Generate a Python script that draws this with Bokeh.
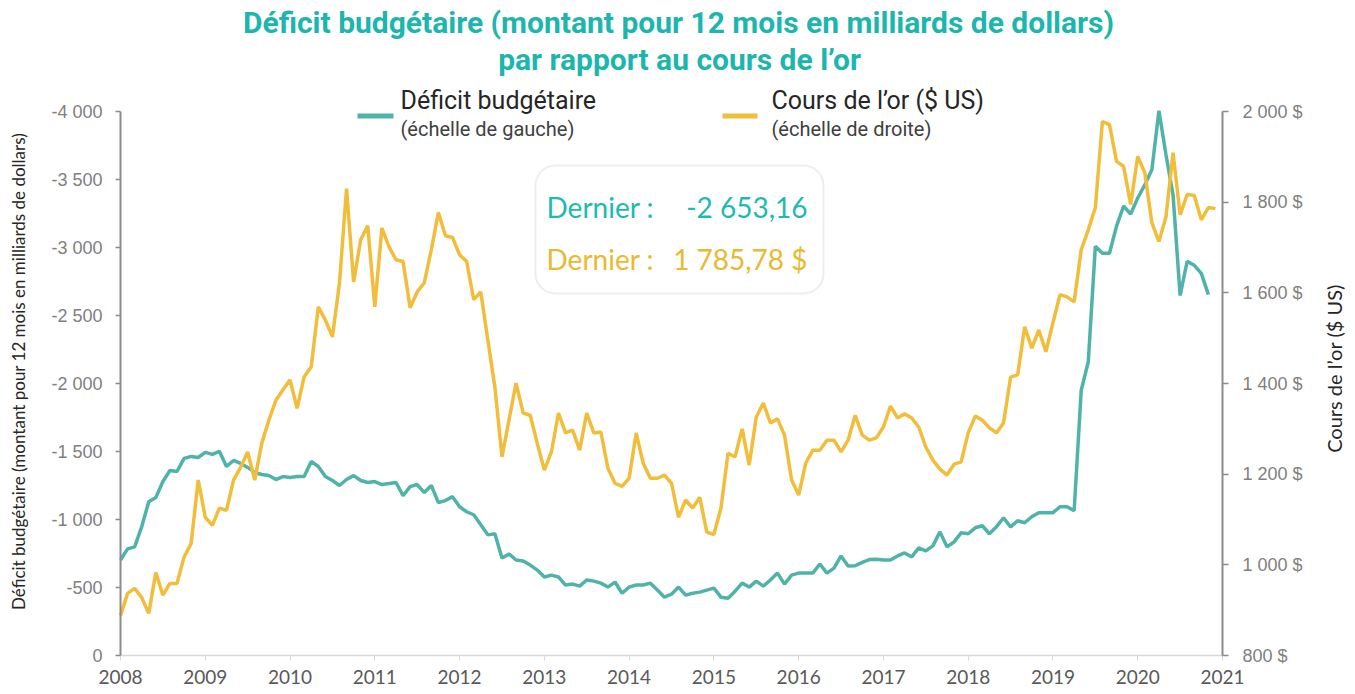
import math
from bokeh.plotting import figure
from bokeh.models import Range1d, LinearAxis, FixedTicker, Label, BoxAnnotation
from bokeh.embed import file_html
from bokeh.resources import INLINE

# ---------------- data (monthly, from January 2008) ----------------
start_year = 2008
year_ticks = list(range(2008, 2022))

deficit = [
    -702, -784, -799, -946, -1131, -1161, -1279, -1360, -1353, -1449, -1464, -1456,
    -1494, -1479, -1501, -1390, -1434, -1412, -1383, -1346, -1331, -1323, -1294, -1316,
    -1309, -1316, -1316, -1427, -1390, -1316, -1287, -1250, -1294, -1323, -1287, -1272,
    -1279, -1257, -1264, -1272, -1176, -1242, -1257, -1198, -1250, -1124, -1139, -1168,
    -1094, -1057, -1035, -961, -887, -895,
    -717, -747, -702, -695, -665, -628, -577, -591, -577, -518, -525, -510,
    -555, -547, -532, -503, -540, -458, -503, -518, -518, -532, -481, -429,
    -451, -503, -444, -458, -466, -481, -495, -429, -421, -473, -532, -503,
    -547, -510, -555, -606, -525, -591, -606, -606, -606, -673, -606, -643,
    -732, -658, -660, -685, -705, -708, -702, -702, -732, -754, -725, -791,
    -769, -806, -909, -799, -835, -902, -895, -939, -954, -895, -946, -1013,
    -946, -991, -976, -1020, -1050, -1050, -1050, -1094, -1094, -1065, -1950, -2160,
    -3009, -2958, -2958, -3157, -3305, -3246, -3364, -3460, -3571, -4005, -3682, -3386,
    -2647, -2898, -2869, -2810, -2653.16,
]

gold = [
    888, 937, 948, 928, 893, 983, 933, 959, 959, 1017, 1047, 1187,
    1105, 1087, 1125, 1120, 1187, 1215, 1249, 1187, 1268, 1319, 1363, 1386,
    1408, 1345, 1415, 1437, 1569, 1540, 1503, 1622, 1830, 1624, 1717, 1748,
    1569, 1743, 1702, 1673, 1669, 1567, 1602, 1622, 1695, 1777, 1726, 1722,
    1684, 1669, 1585, 1602, 1496, 1392, 1238, 1320, 1401, 1335, 1330, 1268,
    1209, 1249, 1335, 1291, 1297, 1253, 1335, 1291, 1293, 1213, 1180, 1173,
    1191, 1291, 1224, 1191, 1191, 1198, 1180, 1105, 1143, 1125, 1149, 1072,
    1067, 1125, 1246, 1238, 1300, 1220, 1326, 1357, 1313, 1322, 1286, 1187,
    1154, 1224, 1253, 1253, 1275, 1275, 1249, 1275, 1330, 1286, 1275, 1280,
    1304, 1350, 1324, 1333, 1324, 1304, 1260, 1231, 1211, 1198, 1222, 1227,
    1291, 1328, 1319, 1302, 1291, 1313, 1414, 1419, 1525, 1478, 1518, 1470,
    1534, 1596, 1591, 1580, 1695, 1739, 1788, 1978, 1971, 1890, 1879, 1795,
    1901, 1865, 1755, 1713, 1768, 1909, 1772, 1817, 1815, 1761, 1788, 1785.78,
]

left_ticks = [0, -500, -1000, -1500, -2000, -2500, -3000, -3500, -4000]
left_labels = ["0", "-500", "-1 000", "-1 500", "-2 000", "-2 500", "-3 000", "-3 500", "-4 000"]
right_ticks = [800, 1000, 1200, 1400, 1600, 1800, 2000]
right_labels = ["800 $", "1 000 $", "1 200 $", "1 400 $", "1 600 $", "1 800 $", "2 000 $"]

x_def = [start_year + i / 12 for i in range(len(deficit))]
x_gold = [start_year + i / 12 for i in range(len(gold))]

TEAL = "#4fb3aa"
GOLD = "#f2bd3b"
TITLE_TEAL = "#1cb6ae"
AXIS_GRAY = "#8c8c8c"

# The frame covers the whole canvas; all three axes are pinned (fixed_location)
# and bounded to their data spans, so titles, legend, axis titles and tick
# labels are all drawn inside the frame.
W, H = 1355, 694
AX_LEFT, AX_RIGHT, AX_BOTTOM, AX_TOP = 120, 1222, 655, 111
x0, x1 = year_ticks[0], year_ticks[-1]
px_per_year = (AX_RIGHT - AX_LEFT) / (x1 - x0)
x_start = x0 - AX_LEFT / px_per_year
x_end = x1 + (W - AX_RIGHT) / px_per_year
px_per_unit_left = (AX_BOTTOM - AX_TOP) / 4000.0
left_start = 0 + (H - AX_BOTTOM) / px_per_unit_left
left_end = -4000 - AX_TOP / px_per_unit_left
units_per_px_right = 1200.0 / (AX_BOTTOM - AX_TOP)
right_start = 800 - (H - AX_BOTTOM) * units_per_px_right
right_end = 2000 + AX_TOP * units_per_px_right

p = figure(width=W, height=H, x_range=Range1d(x_start, x_end),
           y_range=Range1d(left_start, left_end),
           output_backend="svg", toolbar_location=None,
           min_border_left=0, min_border_right=0,
           min_border_top=0, min_border_bottom=0)
p.outline_line_color = None
p.xgrid.visible = False
p.ygrid.visible = False
p.background_fill_color = "white"
p.extra_y_ranges = {"gold": Range1d(right_start, right_end)}

# bottom axis
xa = p.xaxis[0]
xa.fixed_location = 0
xa.bounds = (x0, x1)
xa.ticker = FixedTicker(ticks=year_ticks)
xa.major_label_overrides = {y: str(y) for y in year_ticks}
xa.axis_line_color = "#d9d9d9"
xa.axis_line_width = 1.5
xa.major_tick_line_color = "#d9d9d9"
xa.major_tick_in = 0
xa.major_tick_out = 5
xa.minor_tick_line_color = None
xa.major_label_text_font = "Lato"
xa.major_label_text_font_size = "19px"
xa.major_label_text_color = "#595959"
xa.major_label_standoff = 9

# left axis
ya = p.yaxis[0]
ya.fixed_location = x0
ya.bounds = (-4000, 0)
ya.ticker = FixedTicker(ticks=left_ticks)
ya.major_label_overrides = dict(zip(left_ticks, left_labels))
ya.axis_line_color = AXIS_GRAY
ya.axis_line_width = 2
ya.major_tick_line_color = AXIS_GRAY
ya.major_tick_line_width = 1.5
ya.major_tick_in = 0
ya.major_tick_out = 5
ya.minor_tick_line_color = None
ya.major_label_text_font = "Liberation Sans"
ya.major_label_text_font_size = "18px"
ya.major_label_text_color = "#808080"
ya.major_label_standoff = 13

# right axis
ra = LinearAxis(y_range_name="gold", ticker=FixedTicker(ticks=right_ticks))
ra.fixed_location = x1
ra.bounds = (800, 2000)
ra.major_label_overrides = dict(zip(right_ticks, right_labels))
ra.axis_line_color = AXIS_GRAY
ra.axis_line_width = 2
ra.major_tick_line_color = AXIS_GRAY
ra.major_tick_line_width = 1.5
ra.major_tick_in = 0
ra.major_tick_out = 6
ra.minor_tick_line_color = None
ra.major_label_text_font = "Liberation Sans"
ra.major_label_text_font_size = "18px"
ra.major_label_text_color = "#808080"
ra.major_label_standoff = 14
p.add_layout(ra, "right")

# series
p.line(x_def, deficit, line_color=TEAL, line_width=3.5)
p.line(x_gold, gold, line_color=GOLD, line_width=3.5, y_range_name="gold")

# ---- annotations (screen units relative to the frame's bottom-left) ----
def lab(x, y, text, **kw):
    l = Label(x=x, y=y, x_units="screen", y_units="screen", text=text, **kw)
    p.add_layout(l)
    return l

def sx(page_x):
    return page_x

def sy(page_y):
    return H - page_y

# title
lab(sx(678), sy(22), "Déficit budgétaire (montant pour 12 mois en milliards de dollars)",
    text_font="Roboto", text_font_style="bold", text_font_size="30px", text_color=TITLE_TEAL,
    text_align="center", text_baseline="middle")
lab(sx(679), sy(59), "par rapport au cours de l\u2019or",
    text_font="Roboto", text_font_style="bold", text_font_size="30px", text_color=TITLE_TEAL,
    text_align="center", text_baseline="middle")

# axis titles
lab(sx(18), sy(371), "Déficit budgétaire (montant pour 12 mois en milliards de dollars)",
    angle=math.pi / 2, text_font="Lato", text_font_size="17px", text_color="#262626",
    text_align="center", text_baseline="middle")
lab(sx(1333), sy(368), "Cours de l\u2019or ($ US)",
    angle=math.pi / 2, text_font="Lato", text_font_size="20px", text_color="#262626",
    text_align="center", text_baseline="middle")

def sample(xa0, xa1, color):
    p.add_layout(BoxAnnotation(left=sx(xa0), right=sx(xa1), top=sy(113), bottom=sy(118),
                               left_units="screen", right_units="screen",
                               top_units="screen", bottom_units="screen",
                               fill_color=color, fill_alpha=1, line_color=None))

# legend
sample(357, 393, TEAL)
sample(722, 757, GOLD)
lab(sx(400), sy(100), "Déficit budgétaire", text_font="Roboto", text_font_size="25px",
    text_color="#262626", text_baseline="middle")
lab(sx(400), sy(128), "(échelle de gauche)", text_font="Roboto", text_font_size="20px",
    text_color="#404040", text_baseline="middle")
lab(sx(771), sy(100), "Cours de l\u2019or ($ US)", text_font="Roboto", text_font_size="25px",
    text_color="#262626", text_baseline="middle")
lab(sx(771), sy(128), "(échelle de droite)", text_font="Roboto", text_font_size="20px",
    text_color="#404040", text_baseline="middle")

# "latest value" box
p.add_layout(BoxAnnotation(left=sx(535), right=sx(823), top=sy(165), bottom=sy(293),
                           left_units="screen", right_units="screen",
                           top_units="screen", bottom_units="screen",
                           fill_color="white", fill_alpha=1,
                           line_color="#c8c8c8", line_width=2, border_radius=20))
lab(sx(546), sy(206), "Dernier :", text_font="Lato", text_font_size="28px",
    text_color="#1dbab2", text_baseline="middle")
lab(sx(807), sy(206), "-2 653,16", text_font="Lato", text_font_size="28px",
    text_color="#1dbab2", text_baseline="middle", text_align="right")
lab(sx(546), sy(258), "Dernier :", text_font="Lato", text_font_size="28px",
    text_color="#e9b92f", text_baseline="middle")
lab(sx(807), sy(258), "1 785,78 $", text_font="Lato", text_font_size="28px",
    text_color="#e9b92f", text_baseline="middle", text_align="right")

open("out.html", "w").write(file_html(p, INLINE))
